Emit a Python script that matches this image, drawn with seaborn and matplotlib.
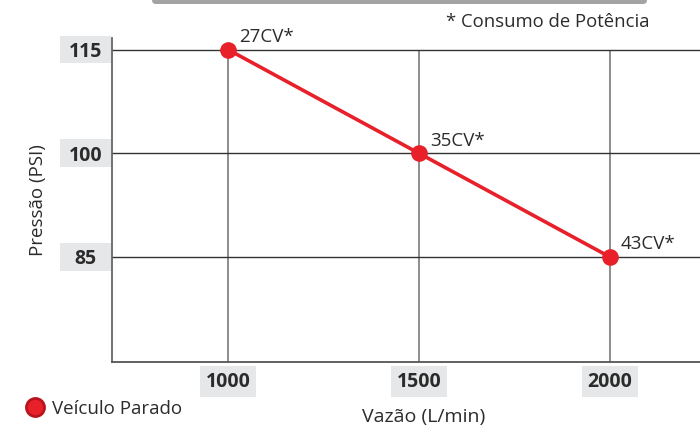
import seaborn as sns
import matplotlib.pyplot as plt
from matplotlib.lines import Line2D
from matplotlib.patches import Rectangle, FancyBboxPatch
import matplotlib.transforms as mtransforms
import pandas as pd


# data
vazao = [1000, 1500, 2000]
pressao = [115, 100, 85]
consumo = ['27CV*', '35CV*', '43CV*']

x_ticks = [1000, 1500, 2000]
y_ticks = [115, 100, 85]

RED = '#e8202a'
BOX = '#e6e7e8'
TXT = '#2b2b2b'

sns.set_theme(style='white')
plt.rcParams['font.family'] = ['Open Sans', 'DejaVu Sans']

df = pd.DataFrame({'Vazão': vazao, 'Pressão': pressao, 'Consumo': consumo})

fig = plt.figure(figsize=(7, 4.3), dpi=100)
ax = fig.add_axes([0.16, 0.158, 0.84, 0.754])

sns.lineplot(data=df, x='Vazão', y='Pressão', ax=ax, color=RED, linewidth=2.6,
             marker='o', markersize=12, markeredgewidth=0, zorder=5, clip_on=False)

ax.set_xlim(696, 2236)
ax.set_ylim(69.8, 116.7)

# grid: vertical lines stop at the top pressure line
ax.vlines(x_ticks, 69.8, max(y_ticks), color='#7a7a7a', linewidth=1.2, zorder=1)
for v in y_ticks:
    ax.axhline(v, color='#333333', linewidth=1.0, zorder=1)

for s in ['top', 'right']:
    ax.spines[s].set_visible(False)
ax.spines['left'].set_color('#666666')
ax.spines['bottom'].set_color('#555555')
ax.spines['left'].set_linewidth(1.3)
ax.spines['bottom'].set_linewidth(1.3)

# x ticks with gray boxes
ax.set_xticks(x_ticks)
ax.set_xticklabels([str(v) for v in x_ticks], fontsize=14, fontweight='bold', color=TXT)
ax.tick_params(axis='x', length=0, pad=7)
for lbl in ax.get_xticklabels():
    lbl.set_bbox(dict(facecolor=BOX, edgecolor='none', pad=4))

# y ticks, centered in fixed-width boxes
ax.set_yticks(y_ticks)
ax.set_yticklabels([str(v) for v in y_ticks], fontsize=14, fontweight='bold', color=TXT)
ax.tick_params(axis='y', length=0, pad=19)
for lbl in ax.get_yticklabels():
    lbl.set_ha('center')
trans = mtransforms.blended_transform_factory(ax.transAxes, ax.transData)
for v in y_ticks:
    ax.add_patch(Rectangle((-0.0884, v - 2.0), 0.0867, 4.0, transform=trans,
                           facecolor=BOX, edgecolor='none', clip_on=False, zorder=0))

ax.set_xlabel('Vazão (L/min)', fontsize=14, color=TXT)
ax.xaxis.set_label_coords(0.53, -0.142)
ax.set_ylabel('Pressão (PSI)', fontsize=13.5, color=TXT, labelpad=16)

# point labels
for x, y, t in zip(vazao, pressao, consumo):
    ax.annotate(t, (x, y), xytext=(8, 9), textcoords='offset points',
                fontsize=13.5, color=TXT, ha='left', va='center')

fig.text(0.928, 0.949, '* Consumo de Potência', fontsize=13.3, color=TXT, ha='right', va='center')

# gray bar at the top edge
fig.patches.append(FancyBboxPatch((152, 426), 495, 10, boxstyle='round,pad=0,rounding_size=4',
                                  transform=None, facecolor='#a3a3a3', edgecolor='none'))

handle = Line2D([], [], linestyle='none', marker='o', markersize=13,
                markerfacecolor=RED, markeredgecolor='#b8141e', markeredgewidth=2)
fig.legend([handle], ['Veículo Parado'], loc='center left', bbox_to_anchor=(0.01, 0.05),
           frameon=False, fontsize=13.5, handletextpad=0.3, handlelength=1.2,
           labelcolor=TXT)

fig.savefig('out.png', dpi=100)
